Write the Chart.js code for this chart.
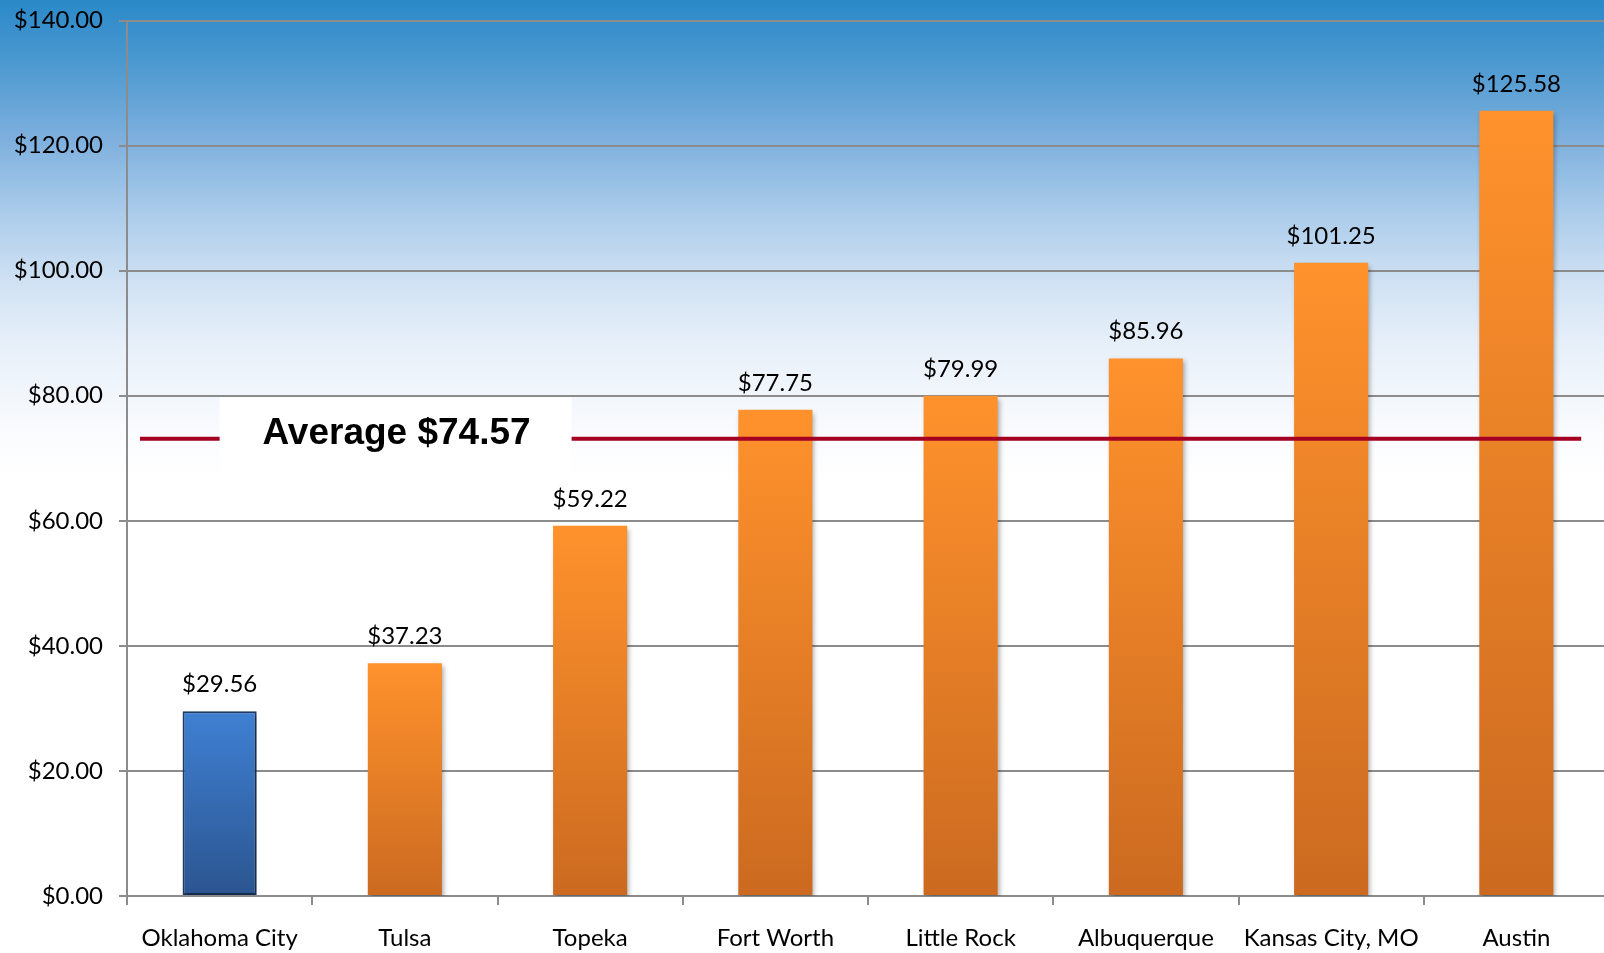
<!DOCTYPE html>
<html>
<head>
<meta charset="utf-8">
<script src="https://cdn.jsdelivr.net/npm/chart.js@4.4.1/dist/chart.umd.min.js"></script>
<style>
  html, body { margin: 0; padding: 0; overflow: hidden; width: 1604px; height: 953px; }
  body {
    background: linear-gradient(to bottom,
      #2a89c8 0px, #4a98d0 60px, #7eb0de 140px, #a9cbea 210px,
      #cfe1f3 280px, #e6eff9 340px, #f3f7fc 400px, #fbfcfe 440px, #ffffff 480px);
  }
  #wrap { position: absolute; left: 0; top: 0; width: 1609px; height: 953px; }
</style>
</head>
<body>
<div id="wrap"><canvas id="c"></canvas></div>
<script>
// ---- data ----
const categories = ['Oklahoma City', 'Tulsa', 'Topeka', 'Fort Worth', 'Little Rock', 'Albuquerque', 'Kansas City, MO', 'Austin'];
const costValues = [29.56, 37.23, 59.22, 77.75, 79.99, 85.96, 101.25, 125.58];
const averageLabel = 'Average $74.57';
const averageLineValue = [73.1, 73.1];   // level at which the red line is drawn in the picture
const averageLineSpan = [-0.43, 7.35];   // category-index span of the red line
const yTicks = [0, 20, 40, 60, 80, 100, 120, 140];

const fmt = v => '$' + Number(v).toFixed(2);

const barGradient = (context) => {
  const chart = context.chart;
  const i = context.dataIndex;
  const isHi = i === 0;
  if (context.type !== 'data' || !chart.chartArea || !chart.scales.y) return isHi ? '#3a75c4' : '#f0862a';
  const y = chart.scales.y;
  const top = y.getPixelForValue(context.raw);
  const bot = y.getPixelForValue(0);
  const g = chart.ctx.createLinearGradient(0, top, 0, bot);
  if (isHi) { g.addColorStop(0, '#3f80d3'); g.addColorStop(1, '#2b5590'); }
  else { g.addColorStop(0, '#ff922c'); g.addColorStop(1, '#cb6a20'); }
  return g;
};

const shadowPlugin = {
  id: 'barShadow',
  beforeDatasetDraw(chart, args) {
    if (args.meta.type !== 'bar') return;
    const c = chart.ctx; c.save();
    c.shadowColor = 'rgba(0,0,0,0.35)'; c.shadowBlur = 5; c.shadowOffsetX = 2; c.shadowOffsetY = 3;
  },
  afterDatasetDraw(chart, args) {
    if (args.meta.type !== 'bar') return;
    chart.ctx.restore();
  }
};

const labelPlugin = {
  id: 'valueLabels',
  afterDatasetsDraw(chart) {
    const c = chart.ctx;
    const meta = chart.getDatasetMeta(0);
    const y = chart.scales.y;
    c.save();
    c.font = '24px Lato';
    c.fillStyle = '#000';
    c.textAlign = 'center';
    c.textBaseline = 'alphabetic';
    meta.data.forEach((bar, i) => {
      const v = chart.data.datasets[0].data[i];
      c.fillText(fmt(v), bar.x, y.getPixelForValue(v) - 19);
    });
    // average label box
    const x2 = chart.scales.x2;
    const left = x2.getPixelForValue(0.0), right = x2.getPixelForValue(1.9);
    const top = y.getPixelForValue(79.75), bottom = y.getPixelForValue(68);
    c.fillStyle = '#ffffff';
    c.fillRect(left, top, right - left, bottom - top);
    c.fillStyle = '#000';
    c.font = 'bold 37px "Liberation Sans", Arial, sans-serif';
    c.fillText(averageLabel, x2.getPixelForValue(0.955), y.getPixelForValue(72.3));
    c.restore();
  }
};

new Chart(document.getElementById('c'), {
  data: {
    labels: categories,
    datasets: [
      {
        type: 'bar',
        data: costValues,
        order: 1,
        grouped: false,
        backgroundColor: barGradient,
        borderColor: ctx => ctx.dataIndex === 0 ? '#1e3a66' : 'rgba(0,0,0,0)',
        borderWidth: ctx => ctx.dataIndex === 0 ? 2 : 0,
        borderSkipped: false,
        barPercentage: 0.8,
        categoryPercentage: 0.5,
        xAxisID: 'x', yAxisID: 'y'
      },
      {
        type: 'line',
        data: averageLineSpan.map((x, k) => ({ x, y: averageLineValue[k] })),
        order: 0,
        borderColor: '#a50021',
        borderWidth: 4,
        pointRadius: 0,
        fill: false,
        xAxisID: 'x2', yAxisID: 'y'
      }
    ]
  },
  options: {
    responsive: true,
    maintainAspectRatio: false,
    animation: false,
    layout: { padding: { top: 20.5, left: 0, right: 0, bottom: 0 } },
    plugins: { legend: { display: false }, tooltip: { enabled: false } },
    scales: {
      x: {
        type: 'category',
        offset: true,
        grid: { display: true, drawOnChartArea: false, color: '#8c8c8c', lineWidth: 2, tickLength: 9, offset: true },
        border: { color: '#8c8c8c', width: 2 },
        ticks: { color: '#000', font: { family: 'Lato', size: 24 }, padding: 19, maxRotation: 0, autoSkip: false },
        afterFit: s => { s.height = 57; }
      },
      x2: { type: 'linear', min: -0.5, max: 7.5, display: false },
      y: {
        min: 0, max: 140,
        afterBuildTicks: s => { s.ticks = yTicks.map(v => ({ value: v })); },
        grid: { color: '#8c8c8c', lineWidth: 2, tickLength: 8 },
        border: { color: '#8c8c8c', width: 2 },
        ticks: { color: '#000', font: { family: 'Lato', size: 24 }, padding: 16, callback: v => fmt(v) },
        afterFit: s => { s.width = 127; s.paddingTop = 0; s.paddingBottom = 0; }
      }
    }
  },
  plugins: [shadowPlugin, labelPlugin]
});
</script>
</body>
</html>
